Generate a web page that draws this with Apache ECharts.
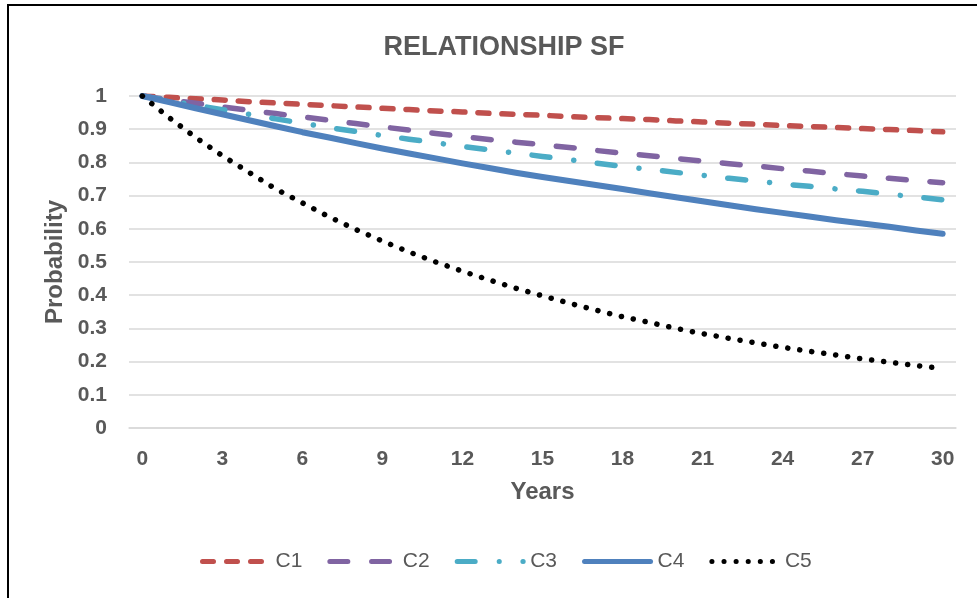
<!DOCTYPE html>
<html>
<head>
<meta charset="utf-8">
<script src="https://cdn.jsdelivr.net/npm/echarts@6/dist/echarts.min.js"></script>
<style>
html,body{margin:0;padding:0;background:#fff;}
#chart{width:977px;height:598px;}
</style>
</head>
<body>
<div id="chart"></div>
<script>
var years = [0,1,2,3,4,5,6,7,8,9,10,11,12,13,14,15,16,17,18,19,20,21,22,23,24,25,26,27,28,29,30];
var c1 = [1,0.996,0.992,0.988,0.983,0.979,0.975,0.971,0.967,0.963,0.959,0.955,0.952,0.948,0.945,0.942,0.938,0.935,0.932,0.929,0.925,0.922,0.918,0.915,0.911,0.908,0.905,0.902,0.899,0.896,0.892];
var c2 = [1,0.989,0.978,0.967,0.957,0.947,0.937,0.927,0.917,0.907,0.897,0.887,0.878,0.869,0.861,0.853,0.845,0.836,0.828,0.82,0.812,0.804,0.796,0.789,0.781,0.774,0.766,0.759,0.752,0.745,0.739];
var c3 = [1,0.986,0.972,0.959,0.945,0.931,0.918,0.905,0.893,0.881,0.87,0.859,0.848,0.838,0.828,0.818,0.808,0.798,0.788,0.779,0.77,0.761,0.752,0.744,0.735,0.728,0.72,0.713,0.704,0.696,0.687];
var c4 = [1,0.982,0.963,0.945,0.927,0.909,0.891,0.875,0.858,0.842,0.827,0.812,0.797,0.783,0.769,0.756,0.744,0.732,0.72,0.707,0.695,0.683,0.671,0.659,0.648,0.637,0.626,0.616,0.606,0.595,0.585];
var c5 = [1,0.935,0.875,0.82,0.77,0.72,0.678,0.636,0.598,0.563,0.53,0.5,0.472,0.446,0.421,0.398,0.376,0.355,0.335,0.318,0.3,0.284,0.27,0.256,0.243,0.231,0.22,0.208,0.198,0.188,0.179];
var seriesNames = ['C1','C2','C3','C4','C5'];
var yTicks = [0,0.1,0.2,0.3,0.4,0.5,0.6,0.7,0.8,0.9,1];

var FONT = "'Liberation Sans Narrow','Arial Narrow','Liberation Sans',Arial,sans-serif";
var GRAY = '#595959';

function mk(name, data, color, width, dash) {
  return {
    name: name, type: 'line', data: data, symbol: 'none', showSymbol: false, smooth: false,
    lineStyle: {color: color, width: width, type: dash, cap: 'round', join: 'round'},
    itemStyle: {color: color}
  };
}

var chart = echarts.init(document.getElementById('chart'));
chart.setOption({
  backgroundColor: '#fff',
  animation: false,
  title: {
    text: 'RELATIONSHIP SF', left: 499, top: 29, textAlign: 'center',
    textStyle: {fontFamily: FONT, fontSize: 27, fontWeight: 'bold', color: GRAY}
  },
  graphic: [{
    type: 'polyline', silent: true,
    shape: {points: [[8, 620], [8, 5], [1000, 5]]},
    style: {stroke: '#000', lineWidth: 2, fill: null}
  }],
  legend: {
    data: seriesNames, bottom: 21, left: 195,
    itemWidth: 66, itemHeight: 20, itemGap: 25,
    itemStyle: {opacity: 0},
    lineStyle: {width: 5},
    textStyle: {fontFamily: FONT, fontSize: 21, color: GRAY, padding: [0,0,0,2]}
  },
  grid: {left: 129, right: 21, top: 96, bottom: 170},
  xAxis: {
    type: 'category', data: years, boundaryGap: true,
    name: 'Years', nameLocation: 'middle', nameGap: 52,
    nameTextStyle: {fontFamily: FONT, fontSize: 24, fontWeight: 'bold', color: GRAY},
    axisLine: {show: true, lineStyle: {color: '#d9d9d9', width: 1.5}},
    axisTick: {show: false},
    axisLabel: {interval: 2, fontFamily: FONT, fontSize: 21, fontWeight: 'bold', color: GRAY, margin: 21}
  },
  yAxis: {
    type: 'value', min: 0, max: 1, interval: 0.1,
    name: 'Probability', nameLocation: 'middle', nameGap: 51, nameRotate: 90,
    nameTextStyle: {fontFamily: FONT, fontSize: 24, fontWeight: 'bold', color: GRAY},
    axisLine: {show: false}, axisTick: {show: false},
    splitLine: {lineStyle: {color: '#d9d9d9', width: 1.5}},
    axisLabel: {
      fontFamily: FONT, fontSize: 21, fontWeight: 'bold', color: GRAY, margin: 22,
      formatter: function (v) { var r = Math.round(v * 10) / 10; return yTicks.indexOf(r) >= 0 ? String(r) : ''; }
    }
  },
  series: [
    mk('C1', c1, '#C0504D', 5.5, [11, 13]),
    mk('C2', c2, '#8064A2', 5.5, [18, 23.7]),
    mk('C3', c3, '#4BACC6', 5.5, [18, 24, 0.1, 23.6]),
    mk('C4', c4, '#4F81BD', 6, 'solid'),
    mk('C5', c5, '#000000', 5.5, [0.1, 12])
  ]
});
</script>
</body>
</html>
